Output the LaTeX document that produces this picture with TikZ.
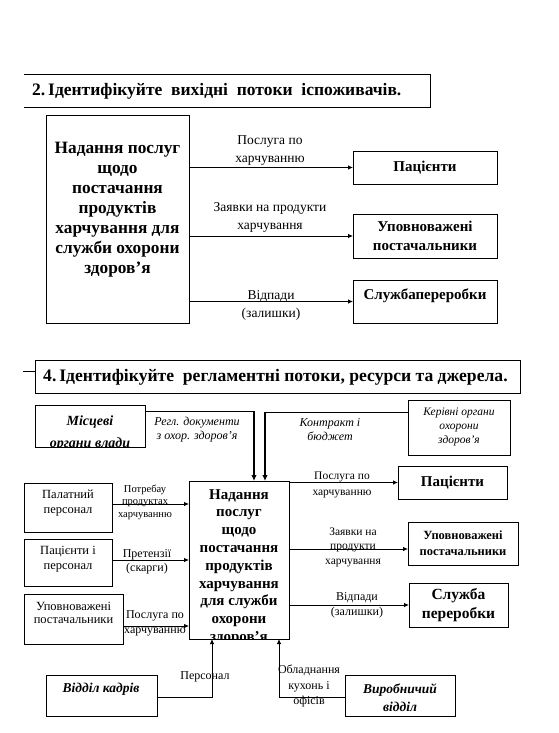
\documentclass[tikz,border=0pt]{standalone}
\usepackage{fontspec}
\setmainfont{Liberation Serif}
\usetikzlibrary{arrows.meta}
\newcommand\myfs[2]{\fontsize{#1}{#2}\selectfont}
\begin{document}
\begin{tikzpicture}[x=1pt,y=-1pt,
  box/.style={draw,line width=0.8pt,anchor=north west,inner sep=0pt,outer sep=0pt},
  arr/.style={line width=0.8pt,-{Latex[length=5pt,width=4.5pt]}},
  ln/.style={line width=0.8pt},
  thk/.style={line width=1.8pt,-{Latex[length=6pt,width=5.5pt]}},
  lbl/.style={align=center,inner sep=0pt}]
\fill[white] (0,0) rectangle (558,733);
\useasboundingbox (0,0) rectangle (558,733);
% ---------- section 1 ----------
\draw[ln] (24,74) -- (430,74) -- (430,107) -- (24,107);
\node[lbl,anchor=west,font=\myfs{17.5}{20}\bfseries] (T1) at (32,91) {2.\,Ідентифікуйте\ \ вихідні\ \ потоки\ \ іспоживачів.};
\node[box,minimum width=143pt,minimum height=208pt] (A) at (46,115) {};
\node[lbl,font=\myfs{17.3}{20}\bfseries] (At) at (117.5,210) {Надання послуг\\щодо\\постачання\\продуктів\\харчування для\\служби охорони\\здоров’я};
\node[box,minimum width=144pt,minimum height=33pt] (P1) at (353,151) {};
\node[lbl,font=\myfs{15}{18}\bfseries] (P1t) at (P1.center) {Пацієнти};
\node[box,minimum width=144pt,minimum height=44pt] (U1) at (353,214) {};
\node[lbl,font=\myfs{15}{19}\bfseries] (U1t) at (U1.center) {Уповноважені\\постачальники};
\node[box,minimum width=144pt,minimum height=43pt] (S1) at (353,280) {};
\node[lbl,font=\myfs{15}{18}\bfseries] (S1t) at (425,296) {Службапереробки};
\draw[arr] (A.east|-P1.west) -- (P1.west);
\draw[arr] (A.east|-U1.west) -- (U1.west);
\draw[arr] (A.east|-S1.west) -- (S1.west);
\node[lbl,font=\myfs{13.5}{18}] (l1) at (270,151) {Послуга по\\харчуванню};
\node[lbl,font=\myfs{13.5}{18}] (l2) at (270,217) {Заявки на продукти\\харчування};
\node[lbl,font=\myfs{13.5}{18}] (l3) at (271,305) {Відпади\\(залишки)};
% ---------- section 2 ----------
\node[box,minimum width=485pt,minimum height=33pt] (T2) at (35,360) {};
\draw[ln] (23,371) -- (T2.west|-0,371);
\node[lbl,anchor=west,font=\myfs{17.6}{20}\bfseries] (T2t) at (43,377) {4.\,Ідентифікуйте\ \ регламентні потоки, ресурси та джерела.};
\node[box,minimum width=110pt,minimum height=42pt] (MO) at (35,405) {};
\begin{scope}
\clip (MO.north west) rectangle (MO.south east);
\node[lbl,font=\myfs{14}{22}\bfseries\itshape] (MOt) at (90,433) {Місцеві\\органи влади};
\end{scope}
\node[box,minimum width=102pt,minimum height=55pt] (KO) at (408,400) {};
\node[lbl,font=\myfs{11.5}{14}\itshape] (KOt) at (459,427) {Керівні органи\\охорони\\здоров’я};
\node[box,minimum width=100pt,minimum height=158pt] (C) at (189,481) {};
\begin{scope}
\clip (C.north west) rectangle (C.south east);
\node[lbl,font=\myfs{15}{17.8}\bfseries] (Ct) at (239,567) {Надання\\послуг\\щодо\\постачання\\продуктів\\харчування\\для служби\\охорони\\здоров’я};
\end{scope}
\node[lbl,font=\myfs{12}{14}\itshape] (r1) at (197,430) {Регл. документи\\з охор. здоров’я};
\node[lbl,font=\myfs{12}{14}\itshape] (r2) at (330,430) {Контракт і\\бюджет};
\coordinate (m1) at (254,411);
\draw[ln] (MO.east|-m1) -- (m1);
\draw[thk] (m1) -- (m1|-C.north);
\coordinate (k1) at (265,412);
\draw[ln] (KO.west|-k1) -- (k1);
\draw[thk] (k1) -- (k1|-C.north);
% left
\node[box,minimum width=88pt,minimum height=49pt] (L1) at (24,483) {};
\node[lbl,font=\myfs{12.5}{15}] (L1t) at (68,503) {Палатний\\персонал};
\node[box,minimum width=88pt,minimum height=47pt] (L2) at (24,539) {};
\node[lbl,font=\myfs{12.5}{15}] (L2t) at (68,559) {Пацієнти і\\персонал};
\node[box,minimum width=99pt,minimum height=50pt] (L3) at (24,594) {};
\node[lbl,font=\myfs{12.5}{13}] (L3t) at (73.5,613) {Уповноважені\\постачальники};
\draw[arr] (L1.east|-0,504) -- (C.west|-0,504);
\draw[arr] (L2.east|-0,560) -- (C.west|-0,560);
\draw[arr] (L3.east|-0,626) -- (C.west|-0,626);
\node[lbl,font=\myfs{10.5}{12.5}] (q1) at (145,502) {Потребау\\продуктах\\харчуванню};
\node[lbl,font=\myfs{12}{13.5}] (q2) at (147,562) {Претензії\\(скарги)};
\node[lbl,font=\myfs{12}{15}] (q3) at (155,623) {Послуга по\\харчуванню};
% right
\node[box,minimum width=109pt,minimum height=33pt] (P2) at (398,466) {};
\node[lbl,font=\myfs{15}{18}\bfseries] (P2t) at (P2.center) {Пацієнти};
\node[box,minimum width=110pt,minimum height=43pt] (U2) at (408,522) {};
\node[lbl,font=\myfs{12.5}{16}\bfseries] (U2t) at (U2.center) {Уповноважені\\постачальники};
\node[box,minimum width=99pt,minimum height=44pt] (S2) at (409,583) {};
\node[lbl,font=\myfs{15.5}{19}\bfseries] (S2t) at (S2.center) {Служба\\переробки};
\draw[arr] (C.east|-P2.west) -- (P2.west);
\draw[arr] (C.east|-0,549) -- (U2.west|-0,549);
\draw[arr] (C.east|-S2.west) -- (S2.west);
\node[lbl,font=\myfs{11.5}{16}] (s1) at (342,485) {Послуга по\\харчуванню};
\node[lbl,font=\myfs{11.5}{14.5}] (s2) at (353,547) {Заявки на\\продукти\\харчування};
\node[lbl,font=\myfs{12}{15}] (s3) at (357,605) {Відпади\\(залишки)};
% bottom
\node[box,minimum width=111pt,minimum height=41pt] (VK) at (46,675) {};
\node[lbl,font=\myfs{13.5}{16}\bfseries\itshape] (VKt) at (101,689) {Відділ кадрів};
\node[box,minimum width=110pt,minimum height=41pt] (VV) at (345,675) {};
\begin{scope}
\clip (VV.north west) rectangle (VV.south east);
\node[lbl,font=\myfs{13.5}{18}\bfseries\itshape] (VVt) at (400,698) {Виробничий\\відділ};
\end{scope}
\coordinate (v1) at (212,697);
\draw[arr] (VK.east|-v1) -- (v1) -- (v1|-C.south);
\coordinate (v2) at (279,697);
\draw[arr] (VV.west|-v2) -- (v2) -- (v2|-C.south);
\node[lbl,font=\myfs{12}{14}] (b1) at (205,677) {Персонал};
\node[lbl,font=\myfs{12}{15.5}] (b2) at (309,686) {Обладнання\\кухонь і\\офісів};
\end{tikzpicture}
\end{document}
